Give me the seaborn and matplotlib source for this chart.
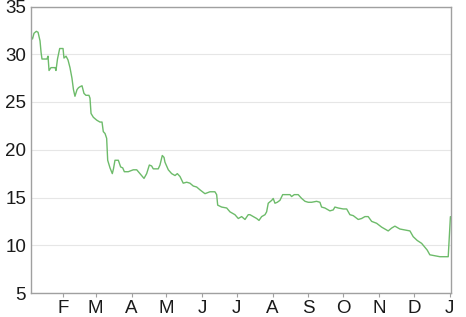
import matplotlib
matplotlib.use("Agg")
import matplotlib.pyplot as plt
import seaborn as sns
import pandas as pd

# day of year (0 = Jan 1) and value
days = [3.1, 4.4, 5.7, 7.7, 9.2, 10.9, 11.8, 12.6, 16.9, 17.8, 18.7, 20.4, 23.9, 24.7, 26.0,
        27.9, 30.8, 31.6, 33.4, 35.1, 36.8, 38.5, 39.8, 41.1, 42.9, 44.2, 45.5, 47.2, 48.9,
        50.6, 53.2, 54.1, 55.0, 57.0, 59.9, 62.7, 64.5, 65.6, 67.1, 68.5, 69.4, 71.4, 73.4,
        74.4, 75.7, 78.6, 80.6, 82.4, 83.8, 87.2, 91.5, 94.5, 97.3, 100.8, 103.1, 105.4,
        107.4, 108.8, 113.1, 114.6, 116.6, 118.1, 118.9, 121.8, 124.7, 127.6, 129.6, 131.9,
        134.7, 137.7, 140.5, 143.4, 146.3, 149.2, 153.5, 157.8, 162.1, 163.6, 164.5, 167.9,
        172.3, 175.1, 179.4, 182.3, 185.2, 188.1, 190.9, 192.4, 195.3, 198.2, 200.2, 202.5,
        205.4, 206.8, 208.2, 211.2, 212.5, 214.0, 216.0, 218.3, 220.7, 227.0, 228.4, 230.7,
        234.1, 237.1, 240.0, 242.8, 245.7, 250.0, 252.9, 254.3, 257.2, 261.5, 264.4, 265.8,
        268.7, 273.0, 276.0, 278.8, 281.7, 286.0, 288.9, 291.8, 294.6, 297.6, 301.9, 306.2,
        309.1, 311.9, 314.9, 317.7, 322.0, 326.4, 330.7, 333.5, 337.0, 340.8, 343.6, 345.6,
        347.9, 352.3, 356.6, 363.8, 365.7]
values = [31.9, 31.6, 32.2, 32.4, 32.3, 31.4, 30.2, 29.5, 29.5, 29.8, 28.3, 28.6, 28.6, 28.3, 29.5,
          30.6, 30.6, 29.6, 29.8, 29.4, 28.6, 27.5, 26.3, 25.6, 26.3, 26.5, 26.6, 26.7, 25.9,
          25.7, 25.7, 25.4, 23.8, 23.4, 23.1, 22.9, 22.9, 21.9, 21.7, 21.2, 18.9, 18.1, 17.5,
          18.0, 18.9, 18.9, 18.2, 18.1, 17.7, 17.7, 17.9, 17.9, 17.5, 17.0, 17.5, 18.4,
          18.3, 18.0, 18.0, 18.4, 19.4, 19.2, 18.7, 17.9, 17.5, 17.3, 17.5, 17.2,
          16.5, 16.6, 16.5, 16.2, 16.1, 15.8, 15.4, 15.6, 15.6, 15.3, 14.2, 14.0,
          13.9, 13.5, 13.2, 12.8, 13.0, 12.7, 13.2, 13.2, 13.0, 12.8, 12.6, 13.0,
          13.2, 13.5, 14.4, 14.7, 14.9, 14.4, 14.5, 14.7, 15.3, 15.3, 15.1, 15.3,
          15.3, 14.9, 14.6, 14.5, 14.5, 14.6, 14.5, 14.0, 13.9, 13.6, 13.7, 14.0,
          13.9, 13.8, 13.8, 13.2, 13.1, 12.7, 12.8, 13.0, 13.0, 12.5, 12.3, 11.9,
          11.7, 11.5, 11.8, 12.0, 11.7, 11.6, 11.5, 10.9, 10.5, 10.2, 9.8, 9.5,
          9.0, 8.9, 8.8, 8.8, 13.0]

month_days = [31, 59, 90, 120, 151, 181, 212, 243, 273, 304, 334, 365]
month_labels = ["F", "M", "A", "M", "J", "J", "A", "S", "O", "N", "D", "J"]
y_ticks = [5, 10, 15, 20, 25, 30, 35]

sns.set_theme(style="white")
plt.rcParams["font.family"] = ["Liberation Sans", "DejaVu Sans"]

df = pd.DataFrame({"day": days, "value": values})

fig = plt.figure(figsize=(4.66, 3.17), dpi=100)
ax = fig.add_axes([31 / 466, 1 - 293 / 317, 420 / 466, 286.5 / 317])

sns.lineplot(data=df, x="day", y="value", ax=ax, color="#6dbb6a",
             linewidth=1.0, estimator=None, sort=False)

ax.set_xlim(3.1, 366.2)
ax.set_ylim(5, 35)
ax.set_yticks(y_ticks)
ax.set_yticklabels([str(v) for v in y_ticks])
ax.set_xticks(month_days)
ax.set_xticklabels(month_labels)
ax.set_xlabel("")
ax.set_ylabel("")

ax.grid(axis="y", color="#e6e6e6", linewidth=0.8)
ax.grid(axis="x", visible=False)
ax.set_axisbelow(True)

for s in ax.spines.values():
    s.set_visible(True)
    s.set_color("#a0a0a0")
    s.set_linewidth(1.0)

ax.tick_params(axis="y", length=0, pad=3.5, labelsize=13.5, labelcolor="#1a1a1a")
ax.tick_params(axis="x", length=3, width=0.8, color="#a0a0a0", direction="out",
               pad=2, labelsize=13.5, labelcolor="#1a1a1a", bottom=True)

fig.savefig("out.png", dpi=100)
